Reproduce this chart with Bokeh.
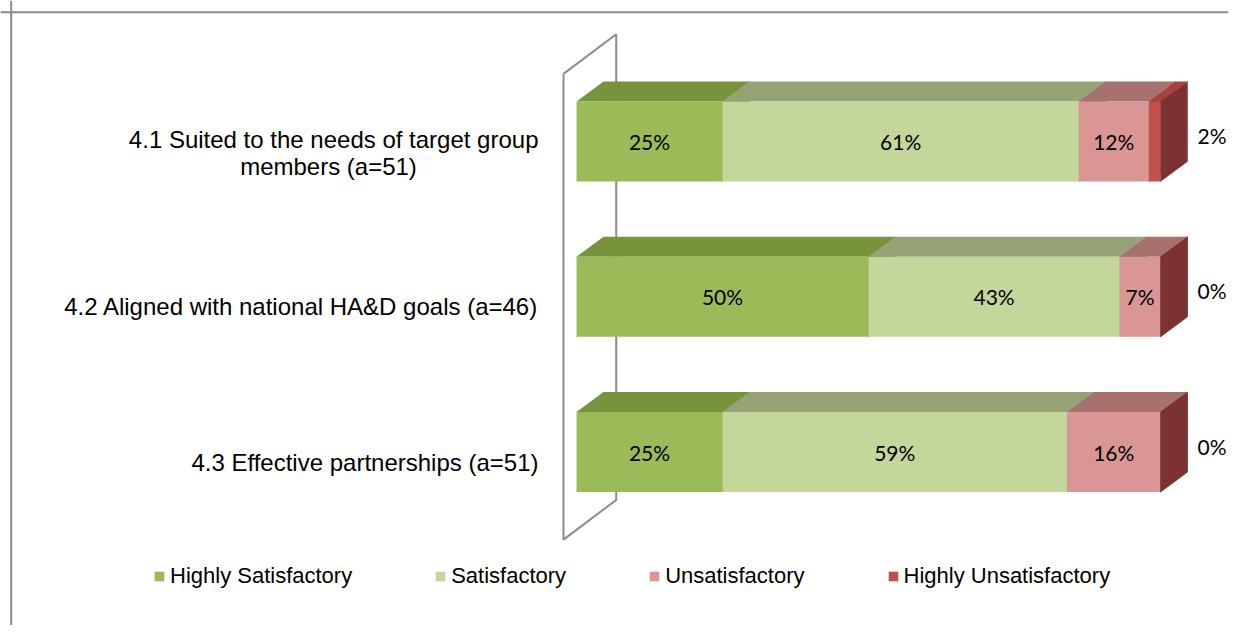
from bokeh.plotting import figure
from bokeh.models import Range1d, Span, Legend, LegendItem
from bokeh.core.properties import value
from bokeh.embed import file_html
from bokeh.resources import INLINE

# ---------------- data ----------------
categories = [
    "4.1 Suited to the needs of target group\nmembers (a=51)",
    "4.2 Aligned with national HA&D goals (a=46)",
    "4.3 Effective partnerships (a=51)",
]
series_names = ["Highly Satisfactory", "Satisfactory", "Unsatisfactory", "Highly Unsatisfactory"]
highly_satisfactory = [25, 50, 25]
satisfactory = [61, 43, 59]
unsatisfactory = [12, 7, 16]
highly_unsatisfactory = [2, 0, 0]
series_values = [highly_satisfactory, satisfactory, unsatisfactory, highly_unsatisfactory]

# ---------------- style ----------------
front_colors = ["#9BBB59", "#C4D79B", "#DA9694", "#C0504D"]
top_colors = ["#77933C", "#97A376", "#A6716F", "#A8423F"]
side_colors = ["#5F7530", "#7F8B60", "#8A5A58", "#7B3230"]
WALL_COLOR = "#8C8C8C"
BORDER_COLOR = "#8A8A8A"

W, H = 1228, 625
X0_PX = 576          # screen x of 0 %
PX_PER_PCT = 5.84    # screen px per percent
Y0_PX = 141          # screen y of first category centre
PX_PER_CAT = 155.25  # screen px per category
BAR_PX = 80
DEPTH = (27, -20)            # bar depth (screen px)
WALL_FRONT = (-13, 10)       # wall front plane relative to bar front plane
WALL_BACK = (39.7, -29.7)    # wall back plane relative to bar front plane
BORDER_PX = (10.7, 11.7)


def dx(px):
    return px / PX_PER_PCT


def dy(px):
    return px / PX_PER_CAT


p = figure(
    width=W, height=H,
    x_range=Range1d(-X0_PX / PX_PER_PCT, (W - X0_PX) / PX_PER_PCT),
    y_range=Range1d((H - Y0_PX) / PX_PER_CAT, -Y0_PX / PX_PER_CAT),
    output_backend="svg", toolbar_location=None, min_border=0,
    x_axis_location=None, y_axis_location=None, outline_line_color=None,
)
p.grid.visible = False
p.background_fill_color = "white"
p.border_fill_color = "white"

# outer chart-area border (left and top visible)
p.add_layout(Span(location=dx(BORDER_PX[0] - X0_PX), dimension="height",
                  line_color=BORDER_COLOR, line_width=2))
p.add_layout(Span(location=dy(BORDER_PX[1] - Y0_PX), dimension="width",
                  line_color=BORDER_COLOR, line_width=2))

n = len(categories)
idx = list(range(n))

# side wall of the 3D box
y_lo, y_hi = -0.5, n - 0.5
wx = [dx(WALL_FRONT[0]), dx(WALL_BACK[0]), dx(WALL_BACK[0]), dx(WALL_FRONT[0]), dx(WALL_FRONT[0])]
wy = [y_lo + dy(WALL_FRONT[1]), y_lo + dy(WALL_BACK[1]), y_hi + dy(WALL_BACK[1]),
      y_hi + dy(WALL_FRONT[1]), y_lo + dy(WALL_FRONT[1])]
p.line(wx, wy, line_color=WALL_COLOR, line_width=2)

half = dy(BAR_PX) / 2
tops = [i - half for i in idx]
bottoms = [i + half for i in idx]
ddx, ddy = dx(DEPTH[0]), dy(DEPTH[1])

cum = [0.0] * n
front_renderers = []
segments = []
for k, vals in enumerate(series_values):
    left = cum[:]
    right = [l + v for l, v in zip(left, vals)]
    cum = right
    segments.append((left, right))
    side_xs = [[r, r + ddx, r + ddx, r] for r in right]
    side_ys = [[t, t + ddy, b + ddy, b] for t, b in zip(tops, bottoms)]
    p.patches(side_xs, side_ys, fill_color=side_colors[k], line_color=side_colors[k], line_width=0.5)
    top_xs = [[l, r, r + ddx, l + ddx] for l, r in zip(left, right)]
    top_ys = [[t, t, t + ddy, t + ddy] for t in tops]
    p.patches(top_xs, top_ys, fill_color=top_colors[k], line_color=None)
    fr = p.quad(left=left, right=right, top=tops, bottom=bottoms,
                fill_color=front_colors[k], line_color=None)
    front_renderers.append(fr)

# value labels inside the bars
lab_x, lab_y, lab_t = [], [], []
for k, vals in enumerate(series_values[:-1]):
    left, right = segments[k]
    for i, v in enumerate(vals):
        if v > 0:
            lab_x.append((left[i] + right[i]) / 2)
            lab_y.append(i)
            lab_t.append(f"{v}%")
p.text(lab_x, lab_y, text=lab_t, text_align="center", text_baseline="middle",
       text_font=value("Lato"), text_font_size="21px", text_color="#000000")

# last series labels, outside on the right
last_left, last_right = segments[-1]
p.text([r + dx(W - 2 - X0_PX) - r for r in last_right], [i + dy(-6) for i in idx],
       text=[f"{v}%" for v in series_values[-1]], text_align="right", text_baseline="middle",
       text_font=value("Lato"), text_font_size="21px", text_color="#000000")

# category labels
cx1, cy1, ct1 = [], [], []
cx2, cy2, ct2 = [], [], []
for i, c in enumerate(categories):
    lines = c.split("\n")
    if len(lines) == 1:
        cx1.append(dx(-38)); cy1.append(i + dy(10)); ct1.append(lines[0])
    else:
        cx1.append(dx(-38)); cy1.append(i + dy(-2)); ct1.append(lines[0])
        cx2.append(dx(-248)); cy2.append(i + dy(25)); ct2.append(lines[1])
p.text(cx1, cy1, text=ct1, text_align="right", text_baseline="middle",
       text_font=value("Liberation Sans"), text_font_size="24px", text_color="#000000")
p.text(cx2, cy2, text=ct2, text_align="center", text_baseline="middle",
       text_font=value("Liberation Sans"), text_font_size="24px", text_color="#000000")

legend = Legend(
    items=[LegendItem(label=nm, renderers=[r]) for nm, r in zip(series_names, front_renderers)],
    orientation="horizontal", location=(153, 36),
    glyph_width=12, glyph_height=12, label_standoff=5, spacing=82,
    padding=0, margin=0, border_line_alpha=0, background_fill_alpha=0,
    label_text_font="Liberation Sans", label_text_font_size="22px", label_text_color="#000000",
)
p.add_layout(legend)

open("out.html", "w").write(file_html(p, INLINE))
